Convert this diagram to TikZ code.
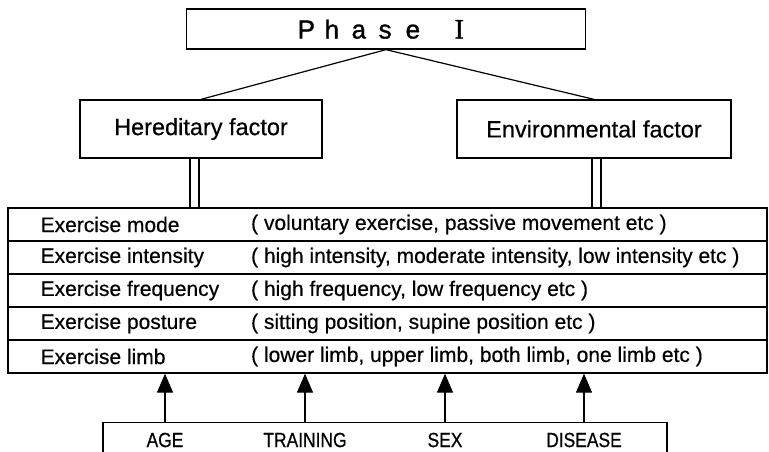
\documentclass[tikz,border=0pt]{standalone}
\usepackage{fontspec}
\setmainfont[FakeBold=0.5]{Liberation Sans}
\newfontfamily\serifI[FakeBold=1.5]{Liberation Serif}
\newfontfamily\phasefont[FakeBold=1.2]{Liberation Sans}
\newfontfamily\condfont[FakeStretch=0.85,FakeBold=0.5]{Liberation Sans}
\usetikzlibrary{arrows.meta}
\begin{document}
\begin{tikzpicture}[x=1pt,y=-1pt,
  line width=1.3pt,
  box/.style={draw, inner sep=0pt, font=\fontsize{23.5}{26}\selectfont},
  rowbox/.style={draw, inner sep=0pt, minimum width=759pt, minimum height=33pt},
  lab/.style={anchor=west, inner sep=0pt, font=\fontsize{21}{24}\selectfont},
  blab/.style={inner sep=0pt, font=\condfont\fontsize{20.5}{22}\selectfont},
  arr/.style={-{Triangle[width=16pt,length=19pt]}, line width=1.2pt},
  thin/.style={line width=1.2pt}]
\useasboundingbox (0,0) rectangle (769,451);
% Phase I
\node[box, minimum width=399pt, minimum height=40pt] (phase) at (386,29) {};
\node[inner sep=0pt, anchor=base west, font=\phasefont\fontsize{26}{30}\selectfont] (phlab) at (297,38.5)
  {\makebox[27pt][l]{P}\makebox[27pt][l]{h}\makebox[27pt][l]{a}\makebox[27pt][l]{s}\makebox[49pt][l]{e}{\serifI\fontsize{28}{30}\selectfont I}};
% factors
\node[box, minimum width=242pt, minimum height=58pt] (hered) at (201,129) {Hereditary factor};
\node[box, minimum width=274pt, minimum height=58pt] (envir) at (594,129) {Environmental factor};
\draw[thin] (phase.south) -- (hered.north);
\draw[thin] (phase.south) -- (envir.north);
% table
\node[rowbox] (r1) at (387.5,224.5) {};
\node[rowbox] (r2) at (387.5,257.5) {};
\node[rowbox] (r3) at (387.5,290.5) {};
\node[rowbox] (r4) at (387.5,323.5) {};
\node[rowbox] (r5) at (387.5,356.5) {};
\foreach \r/\a/\b in {r1/Exercise mode/{( voluntary exercise, passive movement etc )},
  r2/Exercise intensity/{( high intensity, moderate intensity, low intensity etc )},
  r3/Exercise frequency/{( high frequency, low frequency etc )},
  r4/Exercise posture/{( sitting position, supine position etc )},
  r5/Exercise limb/{( lower limb, upper limb, both limb, one limb etc )}}{
  \node[lab] (\r a) at ([xshift=-347.5pt]\r.center) {\a};
  \node[lab] (\r b) at ([xshift=-137pt]\r.center) {\b};
}
% double lines
\draw[thin] (hered.south -| 190,0) -- (r1.north -| 190,0);
\draw[thin] (hered.south -| 199,0) -- (r1.north -| 199,0);
\draw[thin] (envir.south -| 592,0) -- (r1.north -| 592,0);
\draw[thin] (envir.south -| 601,0) -- (r1.north -| 601,0);
% bottom box
\node[box, minimum width=564pt, minimum height=50pt, anchor=north] (bot) at (385,422) {};
\foreach \x/\t/\n in {165/AGE/age,305/TRAINING/train,445/SEX/sex,584/DISEASE/dis}{
  \node[blab] (\n) at (\x,440) {\t};
  \draw[arr] (bot.north -| \x,0) -- (r5.south -| \x,0);
}
\end{tikzpicture}
\end{document}
